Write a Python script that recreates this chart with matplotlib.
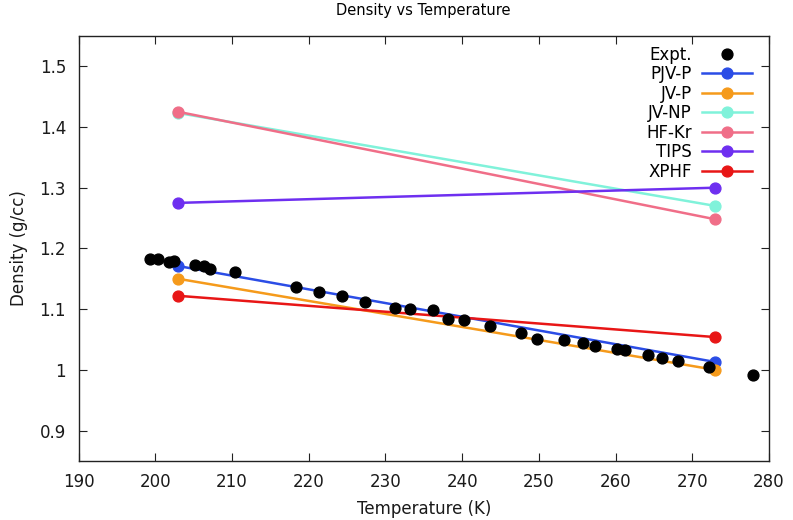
import numpy as np
import matplotlib
matplotlib.use("Agg")
import matplotlib.pyplot as plt
from matplotlib.ticker import FuncFormatter, MultipleLocator

# experimental density points
expt_T = [199.3, 200.4, 201.8, 202.4, 205.2, 206.3, 207.2, 210.4, 218.3, 221.3,
          224.3, 227.3, 231.2, 233.2, 236.2, 238.2, 240.2, 243.7, 247.7, 249.7,
          253.3, 255.7, 257.3, 260.2, 261.2, 264.2, 266.1, 268.2, 272.2, 277.9]
expt_rho = [1.182, 1.183, 1.177, 1.180, 1.172, 1.171, 1.166, 1.162, 1.136, 1.129,
            1.121, 1.112, 1.102, 1.101, 1.098, 1.084, 1.082, 1.073, 1.061, 1.051,
            1.049, 1.044, 1.039, 1.035, 1.033, 1.025, 1.019, 1.014, 1.004, 0.991]

# model predictions at two temperatures
model_T = [203, 273]
pjv_p = [1.171, 1.013]
jv_p = [1.150, 1.000]
jv_np = [1.423, 1.270]
hf_kr = [1.425, 1.248]
tips = [1.275, 1.300]
xphf = [1.122, 1.054]

models = [
    ("PJV-P", pjv_p, "#2b4de6"),
    ("JV-P", jv_p, "#f59a1b"),
    ("JV-NP", jv_np, "#80f2da"),
    ("HF-Kr", hf_kr, "#f06e88"),
    ("TIPS", tips, "#6e2ff0"),
    ("XPHF", xphf, "#e81616"),
]

plt.rcParams['font.family'] = 'DejaVu Sans'
fig = plt.figure(figsize=(7.93, 5.2), dpi=100)
ax = fig.add_axes([0.099, 0.1135, 0.8707, 0.8175])

ax.plot(expt_T, expt_rho, linestyle='none', marker='o', markersize=7.8,
        color='black', label='Expt.', zorder=3)
for name, vals, col in models:
    ax.plot(model_T, vals, '-o', color=col, lw=1.8, markersize=7.8, label=name)

ax.set_xlim(190, 280)
ax.set_ylim(0.85, 1.55)
ax.xaxis.set_major_locator(MultipleLocator(10))
ax.yaxis.set_major_locator(MultipleLocator(0.1))
ax.yaxis.set_major_formatter(FuncFormatter(lambda v, p: '%g' % round(v, 3)))
ax.tick_params(direction='in', length=6, width=0.8, top=True, right=True,
               labelsize=12, pad=9, colors='#222222', labelcolor='#1a1a1a')
for s in ax.spines.values():
    s.set_linewidth(1.0)
    s.set_color('#222222')

ax.set_title('Density vs Temperature', fontsize=10.5, pad=15)
ax.set_xlabel('Temperature (K)', fontsize=12, labelpad=6, color='#1a1a1a')
ax.set_ylabel('Density (g/cc)', fontsize=12, labelpad=8, color='#1a1a1a')

leg = ax.legend(loc='upper right', bbox_to_anchor=(0.985, 0.993), markerfirst=False,
                frameon=False, fontsize=12, handlelength=3.0, handletextpad=0.6,
                labelspacing=0.09, borderaxespad=0)

fig.savefig('out.png', dpi=100)
